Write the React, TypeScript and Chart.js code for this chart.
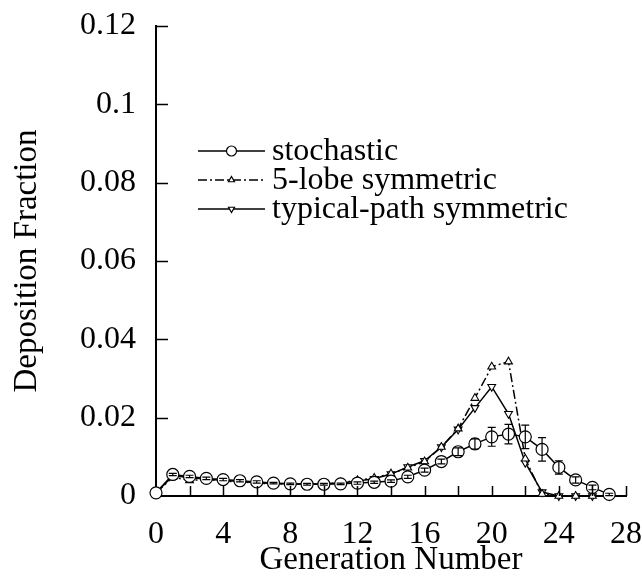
import React, { useEffect, useRef } from 'react';
import { Chart, registerables } from 'chart.js';

Chart.register(...registerables);

const FONT = '"Liberation Serif", "Times New Roman", serif';

const generations = [0, 1, 2, 3, 4, 5, 6, 7, 8, 9, 10, 11, 12, 13, 14, 15, 16, 17, 18, 19, 20, 21, 22, 23, 24, 25, 26, 27];
const stochastic = [0.0008, 0.0055, 0.0050, 0.0045, 0.0042, 0.0039, 0.0036, 0.0033, 0.0031, 0.0030, 0.0030, 0.0031, 0.0033, 0.0035, 0.0038, 0.0049, 0.0066, 0.0088, 0.0113, 0.0133, 0.0151, 0.0158, 0.0151, 0.0119, 0.0073, 0.0041, 0.0022, 0.0004];
const stochasticErr = [0, 0.0003, 0.0003, 0.0003, 0.0003, 0.0003, 0.0003, 0.0002, 0.0002, 0.0002, 0.0002, 0.0002, 0.0003, 0.0003, 0.0003, 0.0004, 0.0005, 0.0006, 0.0010, 0.0013, 0.0024, 0.0025, 0.0030, 0.0030, 0.0017, 0.0008, 0.0006, 0.0003];
const fiveLobe = [0.0008, 0.0048, 0.0040, 0.0042, 0.0038, 0.0036, 0.0033, 0.0031, 0.0030, 0.0030, 0.0031, 0.0034, 0.0040, 0.0046, 0.0057, 0.0072, 0.0088, 0.0125, 0.0172, 0.0250, 0.0330, 0.0343, 0.0095, 0.0005, 0, 0, 0, 0];
const typicalPath = [0.0008, 0.0052, 0.0047, 0.0043, 0.0040, 0.0037, 0.0034, 0.0032, 0.0031, 0.0030, 0.0031, 0.0033, 0.0038, 0.0044, 0.0056, 0.0074, 0.0090, 0.0125, 0.0170, 0.0225, 0.0279, 0.0210, 0.0085, 0.0010, 0, 0, 0, 0];

const seriesNames = ['stochastic', '5-lobe symmetric', 'typical-path symmetric'];
const xTitle = 'Generation Number';
const yTitle = 'Deposition Fraction';

function drawMarker(ctx: CanvasRenderingContext2D, style: string, rotationDeg: number, x: number, y: number, r: number) {
  ctx.beginPath();
  if (style === 'circle') {
    ctx.arc(x, y, r, 0, Math.PI * 2);
  } else {
    let rad = (rotationDeg * Math.PI) / 180;
    const step = (2 * Math.PI) / 3;
    ctx.moveTo(x + Math.sin(rad) * r, y - Math.cos(rad) * r);
    rad += step;
    ctx.lineTo(x + Math.sin(rad) * r, y - Math.cos(rad) * r);
    rad += step;
    ctx.lineTo(x + Math.sin(rad) * r, y - Math.cos(rad) * r);
    ctx.closePath();
  }
  ctx.fillStyle = '#fff';
  ctx.fill();
  ctx.stroke();
}

const errorBarPlugin = {
  id: 'errorBars',
  afterDatasetsDraw(chart: any) {
    const { ctx } = chart;
    const xs = chart.scales.x;
    const ys = chart.scales.y;
    ctx.save();
    ctx.strokeStyle = '#000';
    ctx.lineWidth = 1.2;
    for (let i = 0; i < generations.length; i++) {
      const e = stochasticErr[i];
      if (!e) continue;
      const x = xs.getPixelForValue(generations[i]);
      const y1 = ys.getPixelForValue(stochastic[i] - e);
      const y2 = ys.getPixelForValue(stochastic[i] + e);
      ctx.beginPath();
      ctx.moveTo(x, y1);
      ctx.lineTo(x, y2);
      ctx.moveTo(x - 4, y1);
      ctx.lineTo(x + 4, y1);
      ctx.moveTo(x - 4, y2);
      ctx.lineTo(x + 4, y2);
      ctx.stroke();
    }
    ctx.restore();
  },
};

const innerTicksPlugin = {
  id: 'innerTicks',
  afterDraw(chart: any) {
    const { ctx, chartArea } = chart;
    const xs = chart.scales.x;
    const ys = chart.scales.y;
    ctx.save();
    ctx.strokeStyle = '#000';
    ctx.lineWidth = 1.5;
    ctx.beginPath();
    xs.ticks.forEach((t: any) => {
      if (t.value === 0) return;
      const x = Math.round(xs.getPixelForValue(t.value)) + 0.5;
      ctx.moveTo(x, chartArea.bottom);
      ctx.lineTo(x, chartArea.bottom - 10);
    });
    ys.ticks.forEach((t: any) => {
      if (t.value === 0) return;
      const y = Math.round(ys.getPixelForValue(t.value)) + 0.5;
      ctx.moveTo(chartArea.left, y);
      ctx.lineTo(chartArea.left + 12, y);
    });
    ctx.stroke();
    ctx.restore();
  },
};

const legendPlugin = {
  id: 'customLegend',
  afterDraw(chart: any) {
    const { ctx, chartArea } = chart;
    const x0 = chartArea.left + 42;
    const x1 = chartArea.left + 109;
    const y0 = chartArea.top + 125;
    ctx.save();
    chart.data.datasets.forEach((ds: any, i: number) => {
      const y = y0 + i * 29;
      ctx.strokeStyle = '#000';
      ctx.lineWidth = ds.borderWidth;
      ctx.setLineDash(ds.borderDash || []);
      ctx.beginPath();
      ctx.moveTo(x0, y);
      ctx.lineTo(x1, y);
      ctx.stroke();
      ctx.setLineDash([]);
      ctx.lineWidth = 1.2;
      drawMarker(ctx, ds.pointStyle, ds.pointRotation || 0, (x0 + x1) / 2, y, ds.pointRadius - 1);
      ctx.fillStyle = '#000';
      ctx.font = `32px ${FONT}`;
      ctx.textAlign = 'left';
      ctx.textBaseline = 'middle';
      ctx.fillText(ds.label, x1 + 7, y + 1);
    });
    ctx.restore();
  },
};

export default function App() {
  const canvasRef = useRef<HTMLCanvasElement | null>(null);

  useEffect(() => {
    if (!canvasRef.current) return;
    Chart.defaults.font.family = FONT;
    Chart.defaults.color = '#000';
    const toPts = (arr: number[]) => generations.map((g, i) => ({ x: g, y: arr[i] }));
    const chart = new Chart(canvasRef.current, {
      type: 'line',
      data: {
        datasets: [
          {
            label: seriesNames[0],
            data: toPts(stochastic),
            borderColor: '#000',
            borderWidth: 1.5,
            pointStyle: 'circle',
            pointRadius: 6,
            pointBackgroundColor: '#fff',
            pointBorderColor: '#000',
            pointBorderWidth: 1.2,
            tension: 0,
            clip: false,
          },
          {
            label: seriesNames[1],
            data: toPts(fiveLobe),
            borderColor: '#000',
            borderWidth: 1.5,
            borderDash: [9, 3, 2, 3],
            pointStyle: 'triangle',
            pointRadius: 4.5,
            pointBackgroundColor: '#fff',
            pointBorderColor: '#000',
            pointBorderWidth: 1.1,
            tension: 0,
            clip: false,
          },
          {
            label: seriesNames[2],
            data: toPts(typicalPath),
            borderColor: '#000',
            borderWidth: 1.5,
            pointStyle: 'triangle',
            pointRotation: 180,
            pointRadius: 4.5,
            pointBackgroundColor: '#fff',
            pointBorderColor: '#000',
            pointBorderWidth: 1.1,
            tension: 0,
            clip: false,
          },
        ] as any,
      },
      options: {
        animation: false,
        responsive: true,
        maintainAspectRatio: false,
        layout: { autoPadding: false, padding: { top: 26, right: 16, left: 0, bottom: 0 } },
        plugins: {
          legend: { display: false },
          tooltip: { enabled: false },
        },
        scales: {
          x: {
            type: 'linear',
            min: 0,
            max: 28,
            grid: { display: false, drawTicks: true, tickLength: 19 },
            border: { display: true, color: '#000', width: 2 },
            ticks: {
              stepSize: 2,
              autoSkip: false,
              maxRotation: 0,
              padding: 0,
              color: '#000',
              font: { family: FONT, size: 32 },
              callback: (v: any) => (Number(v) % 4 === 0 ? String(v) : ''),
            },
            title: {
              display: true,
              text: xTitle,
              color: '#000',
              font: { family: FONT, size: 33 },
              padding: { top: 0, bottom: 6 },
            },
            afterFit: (scale: any) => {
              scale.height = 90;
            },
          },
          y: {
            type: 'linear',
            min: 0,
            max: 0.12,
            grid: { display: false, drawTicks: true, tickLength: 20 },
            border: { display: true, color: '#000', width: 2 },
            ticks: {
              stepSize: 0.02,
              padding: 0,
              color: '#000',
              font: { family: FONT, size: 32 },
              callback: (v: any) => String(parseFloat(Number(v).toFixed(2))),
            },
            title: {
              display: true,
              text: yTitle,
              color: '#000',
              font: { family: FONT, size: 33 },
              padding: { top: 8, bottom: 0 },
            },
            afterFit: (scale: any) => {
              scale.width = 156;
            },
          },
        },
      } as any,
      plugins: [errorBarPlugin, innerTicksPlugin, legendPlugin],
    });
    return () => chart.destroy();
  }, []);

  return (
    <div style={{ position: 'fixed', left: 0, top: 0, width: 642, height: 586, background: '#fff' }}>
      <canvas ref={canvasRef} />
    </div>
  );
}
